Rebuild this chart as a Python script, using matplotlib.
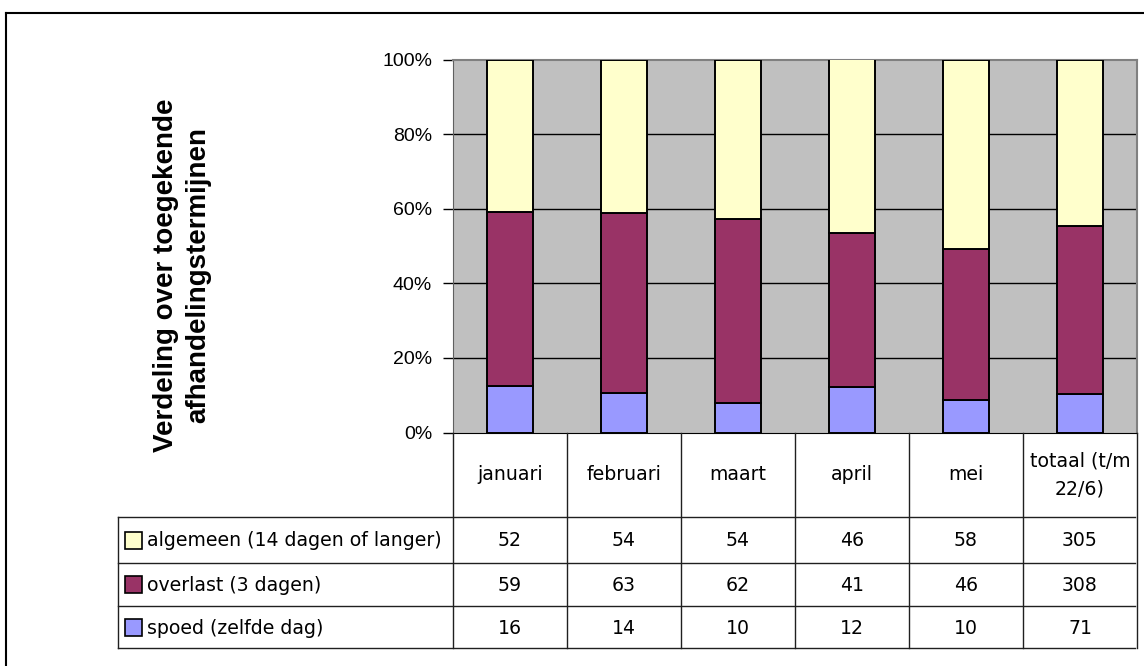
import numpy as np
import matplotlib
matplotlib.use("Agg")
import matplotlib.pyplot as plt
from matplotlib.patches import Rectangle

# Data
maanden = ["januari", "februari", "maart", "april", "mei", "totaal (t/m\n22/6)"]
reeksen = ["algemeen (14 dagen of langer)", "overlast (3 dagen)", "spoed (zelfde dag)"]
algemeen = [52, 54, 54, 46, 58, 305]
overlast = [59, 63, 62, 41, 46, 308]
spoed = [16, 14, 10, 12, 10, 71]

kleuren = {"algemeen": "#FFFFCC", "overlast": "#993366", "spoed": "#9999FF"}

W, H = 1144, 666
fig = plt.figure(figsize=(W / 100, H / 100), dpi=100)
fig.patch.set_facecolor("white")

# plot area in pixels
px_l, px_r, px_t, px_b = 453, 1137, 59.5, 432.5
ax = fig.add_axes([px_l / W, 1 - px_b / H, (px_r - px_l) / W, (px_b - px_t) / H])
ax.set_facecolor("#C0C0C0")

tot = np.array(algemeen) + np.array(overlast) + np.array(spoed)
p_spoed = np.array(spoed) / tot * 100
p_overlast = np.array(overlast) / tot * 100
p_algemeen = np.array(algemeen) / tot * 100

x = np.arange(len(maanden))
bw = 0.4
kw = dict(width=bw, edgecolor="black", linewidth=1.4, zorder=3)
ax.bar(x, p_spoed, color=kleuren["spoed"], **kw)
ax.bar(x, p_overlast, bottom=p_spoed, color=kleuren["overlast"], **kw)
ax.bar(x, p_algemeen, bottom=p_spoed + p_overlast, color=kleuren["algemeen"], **kw)

ax.set_xlim(-0.5, len(maanden) - 0.5)
ax.set_ylim(0, 100)
for g in [20, 40, 60, 80]:
    ax.axhline(g, color="black", lw=1, zorder=1)
ax.set_yticks([0, 20, 40, 60, 80, 100])
ax.set_yticklabels([f"{v}%" for v in [0, 20, 40, 60, 80, 100]],
                   fontsize=14, family="Liberation Sans")
ax.tick_params(axis="y", length=7, width=1, color="black", pad=8)
ax.set_xticks([])
for s in ["top", "right"]:
    ax.spines[s].set_color("#808080")
    ax.spines[s].set_linewidth(1.5)
ax.spines["left"].set_color("#606060")
ax.spines["bottom"].set_color("black")

# overlay in pixel coordinates for table, title and frame
ov = fig.add_axes([0, 0, 1, 1], zorder=9)
ov.set_xlim(0, W)
ov.set_ylim(H, 0)
ov.axis("off")
ov.patch.set_alpha(0)

cw = (px_r - px_l) / len(maanden)
tab_l = 118
rows = [px_b, 517, 563, 606, 648]

# table lines
for i in range(len(maanden) + 1):
    xx = px_l + i * cw
    ov.plot([xx, xx], [px_b, rows[-1]], color="#202020", lw=1)
for yy in rows[1:]:
    ov.plot([tab_l, px_r - 2], [yy, yy], color="#202020", lw=1)
ov.plot([tab_l, tab_l], [rows[1], rows[-1]], color="#202020", lw=1)

tfont = dict(family="DejaVu Sans", fontsize=13.6, color="black")
for i, m in enumerate(maanden):
    ov.text(px_l + (i + 0.5) * cw, (rows[0] + rows[1]) / 2, m, ha="center", va="center",
            linespacing=1.6, **tfont)

waarden = [algemeen, overlast, spoed]
cols = [kleuren["algemeen"], kleuren["overlast"], kleuren["spoed"]]
for r, (naam, vals, c) in enumerate(zip(reeksen, waarden, cols)):
    yc = (rows[r + 1] + rows[r + 2]) / 2
    ov.add_patch(Rectangle((125, yc - 8.5), 17, 17, facecolor=c, edgecolor="black", lw=1.2))
    ov.text(147, yc + 1, naam, ha="left", va="center", **tfont)
    for i, v in enumerate(vals):
        ov.text(px_l + (i + 0.5) * cw, yc + 1, str(v), ha="center", va="center", **tfont)

# y-title
ov.text(182, 275, "Verdeling over toegekende\nafhandelingstermijnen", rotation=90,
        ha="center", va="center", fontsize=20, fontweight="bold",
        family="Liberation Sans", linespacing=1.28)

# outer frame (top and left visible)
ov.plot([6, W], [13, 13], color="black", lw=1.5)
ov.plot([6, 6], [13, H], color="black", lw=1.5)

fig.savefig("out.png", dpi=100)
